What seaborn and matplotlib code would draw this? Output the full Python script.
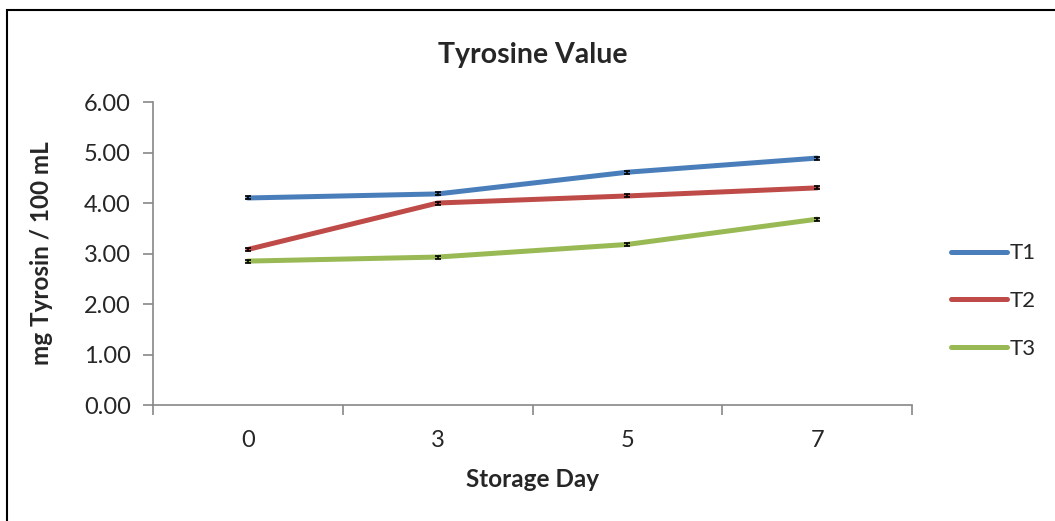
import pandas as pd
import numpy as np
import matplotlib.pyplot as plt
import seaborn as sns

# Data
days = ['0', '3', '5', '7']
t1 = [4.10, 4.18, 4.61, 4.89]
t2 = [3.08, 4.00, 4.14, 4.30]
t3 = [2.85, 2.93, 3.18, 3.68]
err = [0.03, 0.03, 0.03, 0.03]
series = ['T1', 'T2', 'T3']
colors = ['#4A7EBB', '#BE4B48', '#98B954']

pos = np.arange(len(days))
df = pd.DataFrame({
    'pos': np.tile(pos, 3),
    'value': t1 + t2 + t3,
    'group': np.repeat(series, len(days)),
})

sns.set_style('white')
plt.rcParams['font.family'] = ['Lato', 'DejaVu Sans']

fig = plt.figure(figsize=(10.55, 5.21), dpi=100)
ax = fig.add_axes([0.145, 0.2226, 0.7195, 0.5816])

sns.lineplot(data=df, x='pos', y='value', hue='group', palette=colors,
             linewidth=3.6, ax=ax, sort=False)

# tiny error bars
for vals in (t1, t2, t3):
    ax.errorbar(pos, vals, yerr=err, fmt='none', ecolor='black',
                elinewidth=1.2, capsize=2.5, capthick=1.2, zorder=3)

ax.set_xlim(-0.5, 3.5)
ax.set_ylim(0, 6)
ax.set_yticks(np.arange(0, 6.01, 1))
ax.set_yticklabels(['%.2f' % v for v in np.arange(0, 6.01, 1)], fontsize=17)

ax.set_xticks(np.arange(-0.5, 3.6, 1))
ax.set_xticklabels([])
ax.set_xticks(pos, minor=True)
ax.set_xticklabels(days, minor=True, fontsize=17)
ax.tick_params(axis='x', which='major', direction='out', length=7,
               width=1.2, color='#888888', bottom=True)
ax.tick_params(axis='x', which='minor', length=0, pad=18)
ax.tick_params(axis='y', direction='out', length=7, width=1.2,
               color='#888888', left=True, pad=9)

for s in ['top', 'right']:
    ax.spines[s].set_visible(False)
for s in ['left', 'bottom']:
    ax.spines[s].set_color('#888888')
    ax.spines[s].set_linewidth(1.2)

ax.set_xlabel('Storage Day', fontsize=17.5, fontweight='bold', labelpad=12)
ax.set_ylabel('mg Tyrosin / 100 mL', fontsize=17.5, fontweight='bold', labelpad=22)
ax.set_title('Tyrosine Value', fontsize=20.5, fontweight='bold', pad=28)

leg = ax.legend(title=None, loc='center left', bbox_to_anchor=(1.0514, 0.343),
                frameon=False, fontsize=16, handlelength=2.5, borderpad=0,
                borderaxespad=0, handletextpad=0.15, labelspacing=1.25)
for line in leg.get_lines():
    line.set_linewidth(3.6)

# outer chart border (left and top only visible)
fig.patches.append(plt.Rectangle((7 / 1055, -0.1), 1.2, 1 - 10 / 521 + 0.1,
                                 transform=fig.transFigure, fill=False,
                                 edgecolor='black', linewidth=1.5))

fig.savefig('out.png', dpi=100)
